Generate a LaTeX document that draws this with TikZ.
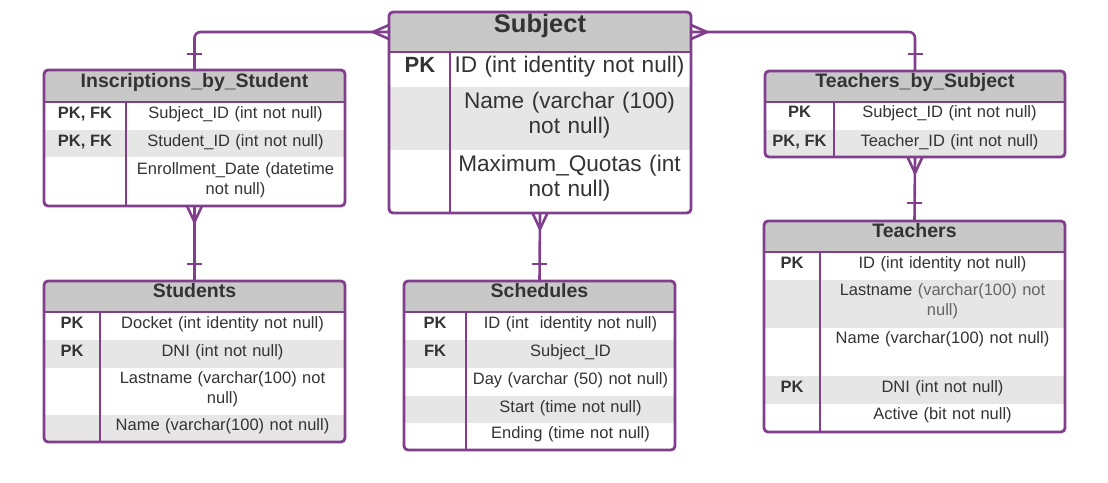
\documentclass[tikz,border=0pt]{standalone}
\usepackage{fontspec}
\setmainfont{Liberation Sans}
\usetikzlibrary{calc}
\definecolor{pur}{RGB}{128,62,140}
\definecolor{hdr}{RGB}{200,200,200}
\definecolor{alt}{RGB}{230,230,230}
\definecolor{txt}{RGB}{51,51,51}
\definecolor{lite}{RGB}{100,100,100}
\begin{document}
\begin{tikzpicture}[x=1pt,y=-1pt,
  frame/.style={inner sep=0pt, outer sep=0pt, anchor=north west},
  edge/.style={draw=pur, line width=2.6pt},
  border/.style={draw=pur, line width=2.8pt, rounded corners=4pt},
  conn/.style={draw=pur, line width=2.6pt},
  hfill/.style={fill=hdr},
  afill/.style={fill=alt},
  ttl/.style={font=\fontsize{19.5}{22}\selectfont\bfseries, text=txt, anchor=base, inner sep=0pt},
  bigttl/.style={font=\fontsize{25.5}{28}\selectfont\bfseries, text=txt, anchor=base, inner sep=0pt},
  key/.style={font=\fontsize{16.5}{20}\selectfont\bfseries, text=txt, anchor=base, inner sep=0pt},
  bigkey/.style={font=\fontsize{22}{25}\selectfont\bfseries, text=txt, anchor=base, inner sep=0pt},
  fld/.style={font=\fontsize{16.5}{20}\selectfont, text=txt, anchor=base, inner sep=0pt, align=center},
  bigfld/.style={font=\fontsize{22.6}{25}\selectfont, text=txt, anchor=base, inner sep=0pt, align=center}]
\useasboundingbox (0,0) rectangle (1108,482);

% ---------------- Inscriptions_by_Student ----------------
\node[frame, minimum width=301pt, minimum height=136pt] (ins) at (44,70) {};
\begin{scope}
  \clip[rounded corners=4pt] (ins.north west) rectangle (ins.south east);
  \fill[hfill] (44,70) rectangle (345,102);
  \fill[afill] (44,130) rectangle (345,157);
\end{scope}
\draw[edge] (44,102) -- (345,102);
\draw[edge] (126,102) -- (126,206);
\draw[border] (ins.north west) rectangle (ins.south east);
\node[ttl] (ins-t) at (194.5,87) {Inscriptions\_by\_Student};
\node[key] (ins-k1) at (85,118) {PK, FK};
\node[key] (ins-k2) at (85,146) {PK, FK};
\node[fld, text width=215pt] (ins-f1) at (235.5,118) {Subject\_ID (int not null)};
\node[fld, text width=215pt] (ins-f2) at (235.5,146) {Student\_ID (int not null)};
\node[fld, text width=215pt] (ins-f3) at (235.5,174) {Enrollment\_Date (datetime\\not null)};

% ---------------- Subject ----------------
\node[frame, minimum width=302pt, minimum height=201pt] (subj) at (389,12) {};
\begin{scope}
  \clip[rounded corners=4pt] (subj.north west) rectangle (subj.south east);
  \fill[hfill] (389,12) rectangle (691,52);
  \fill[afill] (389,87) rectangle (691,150);
\end{scope}
\draw[edge] (389,52) -- (691,52);
\draw[edge] (450,52) -- (450,213);
\draw[border] (subj.north west) rectangle (subj.south east);
\node[bigttl] (subj-t) at (540,32) {Subject};
\node[bigkey] (subj-k1) at (420,72) {PK};
\node[bigfld, text width=238pt] (subj-f1) at (569.5,72) {ID (int identity not null)};
\node[bigfld, text width=238pt] (subj-f2) at (569.5,108) {Name (varchar (100)\\not null)};
\node[bigfld, text width=238pt] (subj-f3) at (569.5,171) {Maximum\_Quotas (int\\not null)};

% ---------------- Teachers_by_Subject ----------------
\node[frame, minimum width=300pt, minimum height=86pt] (tbs) at (765,71) {};
\begin{scope}
  \clip[rounded corners=4pt] (tbs.north west) rectangle (tbs.south east);
  \fill[hfill] (765,71) rectangle (1065,102);
  \fill[afill] (765,130) rectangle (1065,157);
\end{scope}
\draw[edge] (765,102) -- (1065,102);
\draw[edge] (834,102) -- (834,157);
\draw[border] (tbs.north west) rectangle (tbs.south east);
\node[ttl] (tbs-t) at (915,87) {Teachers\_by\_Subject};
\node[key] (tbs-k1) at (799.5,117) {PK};
\node[key] (tbs-k2) at (799.5,146) {PK, FK};
\node[fld, text width=226pt] (tbs-f1) at (949.5,117) {Subject\_ID (int not null)};
\node[fld, text width=226pt] (tbs-f2) at (949.5,146) {Teacher\_ID (int not null)};

% ---------------- Teachers ----------------
\node[frame, minimum width=301pt, minimum height=211pt] (tea) at (764,221) {};
\begin{scope}
  \clip[rounded corners=4pt] (tea.north west) rectangle (tea.south east);
  \fill[hfill] (764,221) rectangle (1065,252);
  \fill[afill] (764,280) rectangle (1065,328);
  \fill[afill] (764,376) rectangle (1065,404);
\end{scope}
\draw[edge] (764,252) -- (1065,252);
\draw[edge] (820,252) -- (820,432);
\draw[border] (tea.north west) rectangle (tea.south east);
\node[ttl] (tea-t) at (914.5,237) {Teachers};
\node[key] (tea-k1) at (792,268) {PK};
\node[key] (tea-k4) at (792,392) {PK};
\node[fld, text width=240pt] (tea-f1) at (942.5,268) {ID (int identity not null)};
\node[fld, text width=240pt] (tea-f2) at (942.5,295) {Lastname \textcolor{lite}{(varchar(100) not}\\\textcolor{lite}{null)}};
\node[fld, text width=240pt] (tea-f3) at (942.5,343) {Name (varchar(100) not null)};
\node[fld, text width=240pt] (tea-f4) at (942.5,392) {DNI (int not null)};
\node[fld, text width=240pt] (tea-f5) at (942.5,419) {Active (bit not null)};

% ---------------- Students ----------------
\node[frame, minimum width=301pt, minimum height=161pt] (stu) at (44,281) {};
\begin{scope}
  \clip[rounded corners=4pt] (stu.north west) rectangle (stu.south east);
  \fill[hfill] (44,281) rectangle (345,312);
  \fill[afill] (44,340) rectangle (345,368);
  \fill[afill] (44,415) rectangle (345,442);
\end{scope}
\draw[edge] (44,312) -- (345,312);
\draw[edge] (100,312) -- (100,442);
\draw[border] (stu.north west) rectangle (stu.south east);
\node[ttl] (stu-t) at (194.5,297) {Students};
\node[key] (stu-k1) at (72,328) {PK};
\node[key] (stu-k2) at (72,356) {PK};
\node[fld, text width=240pt] (stu-f1) at (222.5,328) {Docket (int identity not null)};
\node[fld, text width=240pt] (stu-f2) at (222.5,356) {DNI (int not null)};
\node[fld, text width=240pt] (stu-f3) at (222.5,383) {Lastname (varchar(100) not\\null)};
\node[fld, text width=240pt] (stu-f4) at (222.5,430) {Name (varchar(100) not null)};

% ---------------- Schedules ----------------
\node[frame, minimum width=271pt, minimum height=169pt] (sch) at (404,281) {};
\begin{scope}
  \clip[rounded corners=4pt] (sch.north west) rectangle (sch.south east);
  \fill[hfill] (404,281) rectangle (675,312);
  \fill[afill] (404,340) rectangle (675,368);
  \fill[afill] (404,396) rectangle (675,423);
\end{scope}
\draw[edge] (404,312) -- (675,312);
\draw[edge] (466,312) -- (466,450);
\draw[border] (sch.north west) rectangle (sch.south east);
\node[ttl] (sch-t) at (539.5,297) {Schedules};
\node[key] (sch-k1) at (435,328) {PK};
\node[key] (sch-k2) at (435,356) {FK};
\node[fld, text width=205pt] (sch-f1) at (570.5,328) {ID (int \ identity not null)};
\node[fld, text width=205pt] (sch-f2) at (570.5,356) {Subject\_ID};
\node[fld, text width=205pt] (sch-f3) at (570.5,384) {Day (varchar (50) not null)};
\node[fld, text width=205pt] (sch-f4) at (570.5,412) {Start (time not null)};
\node[fld, text width=205pt] (sch-f5) at (570.5,438) {Ending (time not null)};

% ---------------- Connectors ----------------
\coordinate (sl) at ($(subj.north west)+(0,20)$);
\coordinate (sr) at ($(subj.north east)+(0,20)$);
% Subject -> Inscriptions_by_Student
\draw[conn, rounded corners=6pt] (sl) -| (ins.north);
\draw[conn] ($(sl)+(0,-7)$) -- ($(sl)+(-16,0)$) -- ($(sl)+(0,7)$);
\draw[conn] ($(ins.north)+(-7.5,-16)$) -- ($(ins.north)+(7.5,-16)$);
% Subject -> Teachers_by_Subject
\draw[conn, rounded corners=6pt] (sr) -| (tbs.north);
\draw[conn] ($(sr)+(0,-7)$) -- ($(sr)+(16,0)$) -- ($(sr)+(0,7)$);
\draw[conn] ($(tbs.north)+(-7.5,-17)$) -- ($(tbs.north)+(7.5,-17)$);
% Inscriptions_by_Student -> Students
\draw[conn] (ins.south) -- (stu.north);
\draw[conn] ($(ins.south)+(-7.5,0)$) -- ($(ins.south)+(0,16)$) -- ($(ins.south)+(7.5,0)$);
\draw[conn] ($(stu.north)+(-7.5,-17)$) -- ($(stu.north)+(7.5,-17)$);
% Subject -> Schedules
\draw[conn] (subj.south) -- (sch.north);
\draw[conn] ($(subj.south)+(-7.5,0)$) -- ($(subj.south)+(0,16)$) -- ($(subj.south)+(7.5,0)$);
\draw[conn] ($(sch.north)+(-7.5,-17)$) -- ($(sch.north)+(7.5,-17)$);
% Teachers_by_Subject -> Teachers
\draw[conn] (tbs.south) -- (tea.north);
\draw[conn] ($(tbs.south)+(-7.5,0)$) -- ($(tbs.south)+(0,16)$) -- ($(tbs.south)+(7.5,0)$);
\draw[conn] ($(tea.north)+(-7.5,-18)$) -- ($(tea.north)+(7.5,-18)$);
\end{tikzpicture}
\end{document}
